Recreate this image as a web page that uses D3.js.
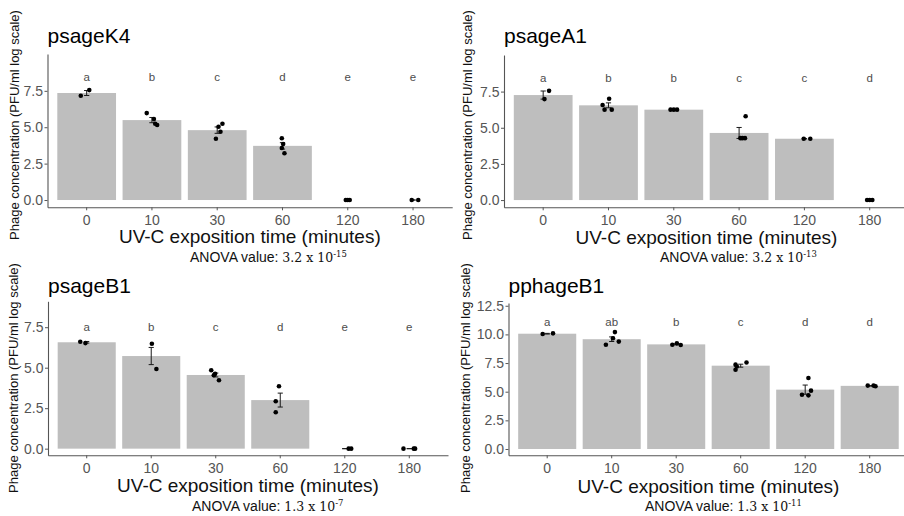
<!DOCTYPE html>
<html>
<head>
<meta charset="utf-8">
<script src="https://cdn.jsdelivr.net/npm/d3@7"></script>
<style>
  body { margin: 0; background: #fff; }
  svg text { font-family: "Liberation Sans", Arial, sans-serif; }
  svg text tspan.num { font-family: "DejaVu Serif", serif; }
</style>
</head>
<body>
<div id="chart-container"></div>
<script>
// Phage survival after UV-C exposure, one bar chart per phage
let times = ["0", "10", "30", "60", "120", "180"];
let phages = ["psageK4", "psageA1", "psageB1", "pphageB1"];

let meanK4 = [7.35, 5.49, 4.80, 3.72, 0, 0];
let seK4 = [0.17, 0.18, 0.22, 0.22, 0, 0];
let lettersK4 = ["a", "b", "c", "d", "e", "e"];
let pointsK4 = [[7.16, 7.55], [5.97, 5.56, 5.24, 5.15], [4.21, 5.03, 5.24, 4.69], [4.24, 3.85, 3.57, 3.21], [0, 0, 0], [0, 0]];
let jitterK4 = [[-0.09, 0.04], [-0.08, 0.03, 0.05, 0.08], [-0.02, 0.02, 0.08, 0.05], [-0.01, 0.01, -0.01, 0.03], [-0.03, 0, 0.03], [-0.02, 0.08]];

let meanA1 = [7.26, 6.55, 6.25, 4.64, 4.24, 0];
let seA1 = [0.28, 0.17, 0, 0.38, 0, 0];
let lettersA1 = ["a", "b", "b", "c", "c", "d"];
let pointsA1 = [[6.98, 7.55], [6.57, 6.25, 7.0, 6.25], [6.25, 6.25, 6.25], [4.28, 4.28, 4.28, 5.79], [4.24, 4.24], [0, 0, 0]];
let jitterA1 = [[0.02, 0.09], [-0.09, -0.06, 0.01, 0.05], [-0.05, 0, 0.05], [0.02, 0.05, 0.09, 0.1], [-0.01, 0.09], [-0.04, 0, 0.04]];

let meanB1 = [6.57, 5.72, 4.55, 3.0, 0, 0];
let seB1 = [0.05, 0.53, 0.12, 0.43, 0, 0];
let lettersB1 = ["a", "b", "c", "d", "e", "e"];
let pointsB1 = [[6.6, 6.52], [6.48, 4.92], [4.84, 4.53, 4.63, 4.22], [3.85, 2.93, 2.25], [0, 0], [0, 0, 0]];
let jitterB1 = [[-0.1, -0.02], [0.01, 0.08], [-0.07, -0.03, -0.01, 0.05], [-0.02, -0.07, -0.07], [0.06, 0.1], [-0.09, 0.07, 0.09]];

let meanPB1 = [10.06, 9.58, 9.13, 7.27, 5.18, 5.51];
let sePB1 = [0.03, 0.2, 0.04, 0.13, 0.4, 0.02];
let lettersPB1 = ["a", "ab", "b", "c", "d", "d"];
let pointsPB1 = [[10.03, 10.09], [9.1, 10.2, 9.66, 9.37], [9.1, 9.22, 9.07], [7.36, 6.92, 7.2, 7.55], [6.2, 4.74, 4.68, 5.09], [5.53, 5.47, 5.53]];
let jitterPB1 = [[-0.07, 0.09], [-0.09, 0.05, 0.02, 0.11], [-0.06, 0.01, 0.07], [-0.08, -0.08, -0.06, 0.09], [0.05, -0.05, 0.05, 0.09], [-0.03, 0.09, 0.06]];

let yTicksShort = [0, 2.5, 5, 7.5];
let yTicksTall = [0, 2.5, 5, 7.5, 10, 12.5];
let letterLevel = [8.43, 8.43, 7.49, 11.08];
let anovaBase = ["3.2", "3.2", "1.3", "1.3"];
let anovaExp = ["-15", "-13", "-7", "-11"];

let width = 904, height = 516;

// where each panel sits in the page
let panels = [
  { name: phages[0], mean: meanK4, se: seK4, letters: lettersK4, pts: pointsK4, jit: jitterK4, ticks: yTicksShort,
    x0: 47.5, x1: 452.2, yTop: 54, yBot: 207.3, yMin: -0.5, yMax: 10.03,
    titleY: 43.3, yLabX: 14, yLabY: 125, xLabY: 243, anovaX: 190, anovaY: 262 },
  { name: phages[1], mean: meanA1, se: seA1, letters: lettersA1, pts: pointsA1, jit: jitterA1, ticks: yTicksShort,
    x0: 504, x1: 908.9, yTop: 55, yBot: 207.3, yMin: -0.5, yMax: 10.03,
    titleY: 43.3, yLabX: 467, yLabY: 125, xLabY: 244, anovaX: 660, anovaY: 262 },
  { name: phages[2], mean: meanB1, se: seB1, letters: lettersB1, pts: pointsB1, jit: jitterB1, ticks: yTicksShort,
    x0: 48, x1: 448, yTop: 301.3, yBot: 455.3, yMin: -0.41, yMax: 9.1,
    titleY: 293, yLabX: 13, yLabY: 378, xLabY: 491.5, anovaX: 192, anovaY: 511 },
  { name: phages[3], mean: meanPB1, se: sePB1, letters: lettersPB1, pts: pointsPB1, jit: jitterPB1, ticks: yTicksTall,
    x0: 508.5, x1: 908.4, yTop: 303, yBot: 455.3, yMin: -0.55, yMax: 12.74,
    titleY: 293, yLabX: 465, yLabY: 378, xLabY: 493, anovaX: 645, anovaY: 511 }
];

let svg = d3.select("#chart-container")
  .append("svg")
  .attr("width", width)
  .attr("height", height);

panels.forEach((p, k) => render(p, k));

function render(p, k) {
  let g = svg.append("g");

  let x = d3.scaleBand().domain(times).range([p.x0, p.x1])
    .paddingInner(0.1).paddingOuter(0.15);
  let y = d3.scaleLinear().domain([p.yMin, p.yMax]).range([p.yBot, p.yTop]);
  let bw = x.bandwidth();
  let step = x.step();
  let cx = t => x(t) + bw / 2;

  // bars
  g.selectAll("rect.bar")
    .data(times)
    .enter().append("rect")
    .attr("x", t => x(t))
    .attr("width", bw)
    .attr("y", (t, i) => y(Math.max(p.mean[i], 0)))
    .attr("height", (t, i) => y(0) - y(Math.max(p.mean[i], 0)))
    .attr("fill", "#bebebe");

  // error bars (mean +/- se)
  let eb = g.selectAll("g.err")
    .data(times)
    .enter().append("g")
    .attr("stroke", "#1a1a1a")
    .attr("stroke-width", 1);
  eb.append("line")
    .attr("x1", t => cx(t)).attr("x2", t => cx(t))
    .attr("y1", (t, i) => y(p.mean[i] + p.se[i]))
    .attr("y2", (t, i) => y(p.mean[i] - p.se[i]));
  [1, -1].forEach(s => {
    eb.append("line")
      .attr("x1", t => cx(t) - 0.04 * step).attr("x2", t => cx(t) + 0.04 * step)
      .attr("y1", (t, i) => y(p.mean[i] + s * p.se[i]))
      .attr("y2", (t, i) => y(p.mean[i] + s * p.se[i]));
  });

  // replicate points
  let pts = [];
  times.forEach((t, i) => {
    p.pts[i].forEach((v, j) => pts.push({ t: t, v: v, dx: p.jit[i][j] }));
  });
  g.selectAll("circle.pt")
    .data(pts)
    .enter().append("circle")
    .attr("cx", d => cx(d.t) + d.dx * step)
    .attr("cy", d => y(d.v))
    .attr("r", 2.3)
    .attr("fill", "#000");

  // significance letters
  g.selectAll("text.letter")
    .data(times)
    .enter().append("text")
    .attr("x", t => cx(t))
    .attr("y", y(letterLevel[k]))
    .attr("dy", "0.35em")
    .attr("text-anchor", "middle")
    .attr("font-size", 11.5)
    .attr("fill", "#4d4d4d")
    .text((t, i) => p.letters[i]);

  // axes
  let xAxis = d3.axisBottom(x).tickSize(3).tickSizeOuter(0).tickPadding(4.5);
  let yAxis = d3.axisLeft(y).tickValues(p.ticks).tickFormat(d3.format(".1f"))
    .tickSize(3).tickSizeOuter(0).tickPadding(1.5);

  let gx = g.append("g")
    .attr("transform", `translate(0,${p.yBot})`)
    .call(xAxis);
  let gy = g.append("g")
    .attr("transform", `translate(${p.x0},0)`)
    .call(yAxis);

  [gx, gy].forEach(a => {
    a.select(".domain").attr("stroke", "#555").attr("stroke-width", 1.1);
    a.selectAll(".tick line").attr("stroke", "#555");
    a.selectAll(".tick text")
      .attr("font-size", 14)
      .attr("font-family", "Liberation Sans, Arial, sans-serif")
      .attr("fill", "#555");
  });

  // titles
  g.append("text")
    .attr("x", p.x0)
    .attr("y", p.titleY)
    .attr("font-size", 21)
    .attr("fill", "#000")
    .text(p.name);

  g.append("text")
    .attr("x", (p.x0 + p.x1) / 2)
    .attr("y", p.xLabY)
    .attr("text-anchor", "middle")
    .attr("font-size", 19)
    .attr("fill", "#111")
    .text("UV-C exposition time (minutes)");

  g.append("text")
    .attr("text-anchor", "middle")
    .attr("transform", `translate(${p.yLabX},${p.yLabY})rotate(-90)`)
    .attr("dy", "0.35em")
    .attr("font-size", 13)
    .attr("fill", "#111")
    .text("Phage concentration (PFU/ml log scale)");

  let an = g.append("text")
    .attr("x", p.anovaX)
    .attr("y", p.anovaY)
    .attr("font-size", 14)
    .attr("fill", "#111");
  an.append("tspan").text("ANOVA value: ");
  an.append("tspan")
    .attr("class", "num")
    .attr("font-size", 12.5)
    .text(anovaBase[k] + " x 10");
  an.append("tspan")
    .attr("class", "num")
    .attr("font-size", 8.5)
    .attr("dy", -5)
    .text(anovaExp[k]);
}
</script>
</body>
</html>
